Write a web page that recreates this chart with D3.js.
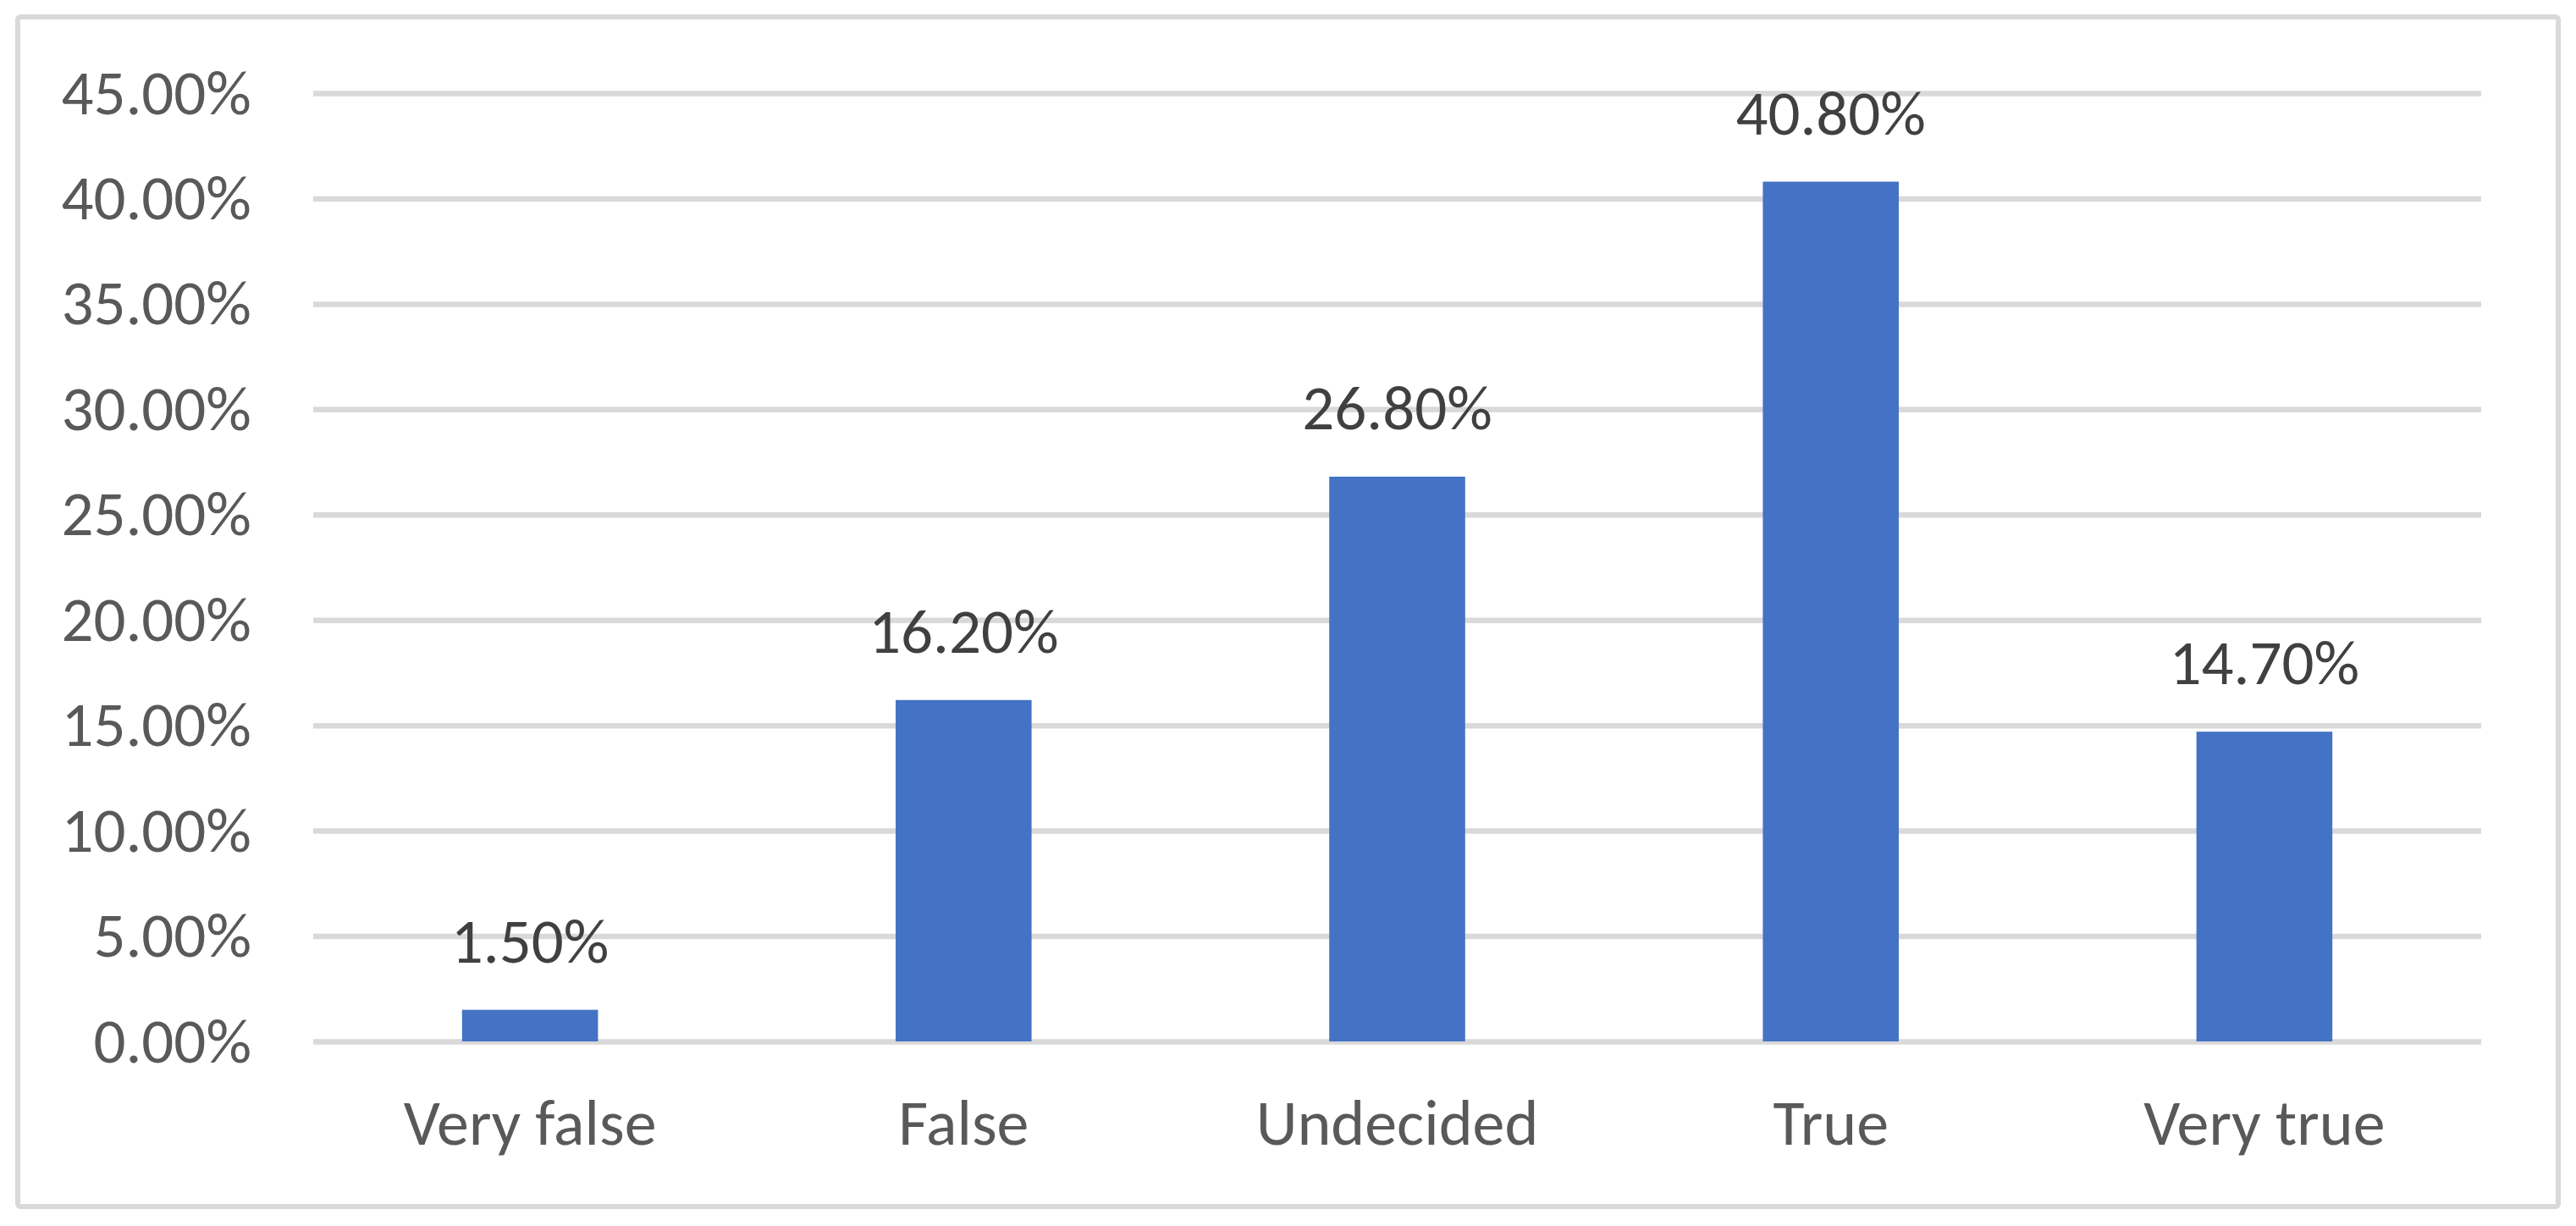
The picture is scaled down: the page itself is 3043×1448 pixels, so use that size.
<!DOCTYPE html>
<html lang="en">
<head>
<meta charset="utf-8">
<title>Responses</title>
<script src="https://d3js.org/d3.v7.min.js"></script>
<style>
  body { margin: 0; background: #fff; }
  text { font-family: Carlito, Calibri, Lato, sans-serif; }
</style>
</head>
<body>
<script>
// chart data
var categories = ["Very false", "False", "Undecided", "True", "Very true"];
var shares = [0.015, 0.162, 0.268, 0.408, 0.147];
var yTicks = [0, 0.05, 0.10, 0.15, 0.20, 0.25, 0.30, 0.35, 0.40, 0.45];

var w = 3043;
var h = 1448;
var plotLeft = 370, plotRight = 2931, plotTop = 110, plotBottom = 1230;

var svg = d3.select("body")
  .append("svg")
  .attr("width", w)
  .attr("height", h);

// outer frame
svg.append("rect")
  .attr("x", 21)
  .attr("y", 20)
  .attr("width", 3001)
  .attr("height", 1405)
  .attr("rx", 3)
  .attr("fill", "#fff")
  .attr("stroke", "#d9d9d9")
  .attr("stroke-width", 6);

var xScale = d3.scaleBand()
  .domain(categories)
  .range([plotLeft, plotRight])
  .padding(0);

var yScale = d3.scaleLinear()
  .domain([0, 0.45])
  .range([plotBottom, plotTop]);

// y axis with gridlines
var yAxis = d3.axisLeft(yScale)
  .tickValues(yTicks)
  .tickFormat(d3.format(".2%"))
  .tickSize(-(plotRight - plotLeft))
  .tickPadding(73);

var gy = svg.append("g")
  .attr("transform", "translate(" + plotLeft + ",0)")
  .call(yAxis);
gy.select(".domain").remove();
gy.selectAll("line")
  .attr("stroke", "#d9d9d9")
  .attr("stroke-width", 6.5);
gy.selectAll("text")
  .attr("fill", "#595959")
  .style("font-size", "75px");

// bars
var barW = xScale.bandwidth() / 3.19;
svg.append("g")
  .selectAll("rect")
  .data(shares)
  .enter()
  .append("rect")
  .attr("x", (d, i) => xScale(categories[i]) + xScale.bandwidth() / 2 - barW / 2)
  .attr("y", d => yScale(d))
  .attr("width", barW)
  .attr("height", d => yScale(0) - yScale(d))
  .attr("fill", "#4472c4");

// value labels
svg.append("g")
  .selectAll("text")
  .data(shares)
  .enter()
  .append("text")
  .attr("x", (d, i) => xScale(categories[i]) + xScale.bandwidth() / 2)
  .attr("y", d => yScale(d) - 56)
  .attr("text-anchor", "middle")
  .attr("fill", "#404040")
  .style("font-size", "75px")
  .text(d => d3.format(".2%")(d));

// x axis
var xAxis = d3.axisBottom(xScale)
  .tickSize(0);
var gx = svg.append("g")
  .attr("transform", "translate(0," + plotBottom + ")")
  .call(xAxis);
gx.select(".domain").remove();
gx.selectAll("text")
  .attr("y", 122)
  .attr("dy", 0)
  .attr("fill", "#595959")
  .style("font-size", "76px");
</script>
</body>
</html>
